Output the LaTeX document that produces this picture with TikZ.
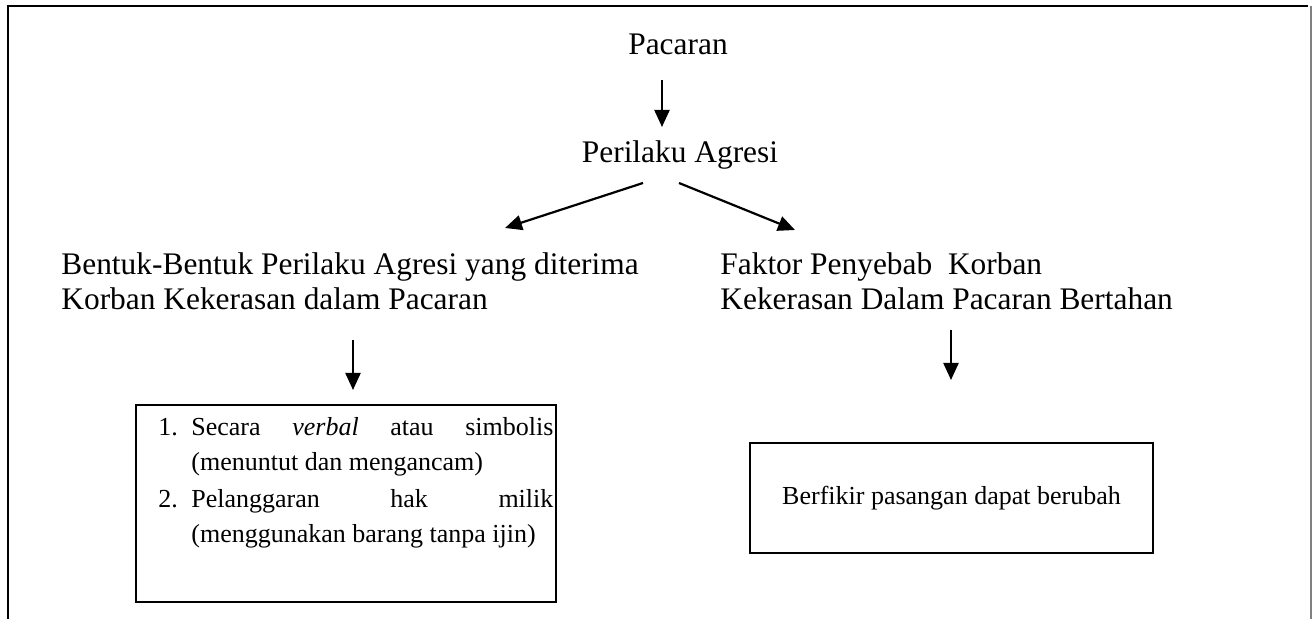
\documentclass[tikz,border=0pt]{standalone}
\usepackage{fontspec}
\setmainfont{Liberation Serif}
\usetikzlibrary{arrows.meta}
\begin{document}
\begin{tikzpicture}[x=0.5pt,y=-0.5pt,
  lbl/.style={inner sep=0pt, font=\fontsize{15.7}{17.5}\selectfont},
  arr/.style={line width=1.1pt, -{Triangle[length=8.5pt,width=7.5pt]}},
  kotak/.style={draw, line width=1.2pt, inner sep=0pt},
  isi/.style={font=\fontsize{13}{17.5}\selectfont}]
\useasboundingbox (0,0) rectangle (1313,619);
% frame
\draw[line width=1.3pt] (8,619) -- (8,6) -- (1308,6);
\draw[gray, line width=0.6pt] (1311,6) -- (1311,619);
% texts
\node[lbl, anchor=base] (pac) at (678,55) {Pacaran};
\node[lbl, anchor=base] (per) at (680,163) {Perilaku Agresi};
\node[lbl, anchor=west, align=left] (bentuk) at (61,281)
  {Bentuk-Bentuk Perilaku Agresi yang diterima\\Korban Kekerasan dalam Pacaran};
\node[lbl, anchor=west, align=left] (faktor) at (720,281)
  {Faktor Penyebab\ \ Korban\\Kekerasan Dalam Pacaran Bertahan};
% boxes
\node[kotak, minimum width=210pt, minimum height=98.5pt] (boxL) at (346,503.5) {};
\node[isi, inner sep=0pt, anchor=north west, text width=197.5pt, align=justify] (isiL) at (158,417)
  {\hyphenpenalty=10000 \exhyphenpenalty=10000
   \hangindent=16.5pt \hangafter=1 \noindent\makebox[16.5pt][l]{1.}Secara \textit{verbal} atau simbolis\linebreak (menuntut dan mengancam)\par
   \vspace{1pt}
   \hangindent=16.5pt \hangafter=1 \noindent\makebox[16.5pt][l]{2.}Pelanggaran hak milik\linebreak (menggunakan barang tanpa ijin)\par};
\node[kotak, isi, minimum width=201.5pt, minimum height=55pt] (boxR) at (951.5,498)
  {Berfikir pasangan dapat berubah};
% arrow end points
\coordinate (a1s) at (662,80);   \coordinate (a1e) at (662,127);
\coordinate (a2s) at (643,183);  \coordinate (a2e) at (505,228);
\coordinate (a3s) at (679,183);  \coordinate (a3e) at (795,230);
\coordinate (a4s) at (353,340);  \coordinate (a4e) at (353,390);
\coordinate (a5s) at (951,330);  \coordinate (a5e) at (951,380);
\draw[arr] (a1s) -- (a1e);
\draw[arr] (a2s) -- (a2e);
\draw[arr] (a3s) -- (a3e);
\draw[arr] (a4s) -- (a4e);
\draw[arr] (a5s) -- (a5e);
\end{tikzpicture}
\end{document}
